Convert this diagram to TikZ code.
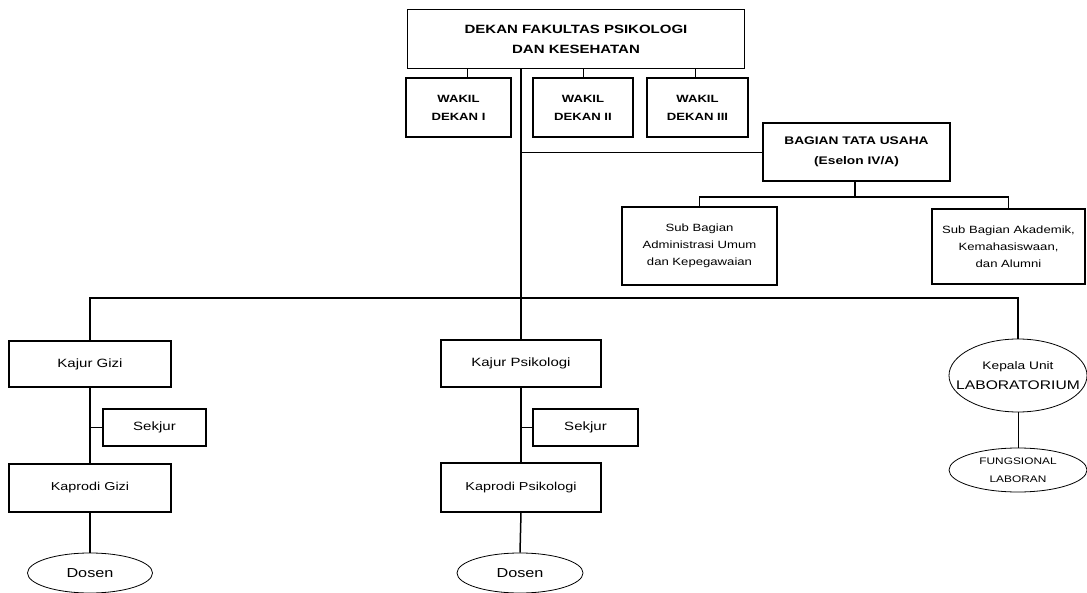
\documentclass[tikz,border=0pt]{standalone}
\usepackage{fontspec}
\setmainfont{Liberation Sans}[FakeStretch=1.25]
\usetikzlibrary{shapes,positioning,calc}

\begin{document}
\begin{tikzpicture}[
    x=1pt, y=-1pt,
    unit/.style={rectangle, draw, line width=1.1pt, align=center, inner sep=2pt},
    oval/.style={ellipse, draw, line width=0.8pt, align=center, inner sep=0pt},
    thinline/.style={line width=0.8pt},
    midline/.style={line width=1.5pt},
    thickline/.style={line width=2.4pt}
]
    \useasboundingbox (0,0) rectangle (1087,593);

    % Top level
    \node[unit, minimum width=337pt, minimum height=59pt, font=\bfseries\fontsize{12}{20}\selectfont] (dekan) at (576,39) {DEKAN FAKULTAS PSIKOLOGI\\DAN KESEHATAN};

    \node[unit, minimum width=105pt, minimum height=59pt, font=\bfseries\fontsize{10.5}{18}\selectfont] (wakil1) at (458.5,107.5) {WAKIL\\DEKAN I};
    \node[unit, minimum width=100pt, minimum height=59pt, font=\bfseries\fontsize{10.5}{18}\selectfont] (wakil2) at (583,107.5) {WAKIL\\DEKAN II};
    \node[unit, minimum width=101pt, minimum height=59pt, font=\bfseries\fontsize{10.5}{18}\selectfont] (wakil3) at (697.5,107.5) {WAKIL\\DEKAN III};

    % Tata usaha
    \node[unit, minimum width=187pt, minimum height=58pt, font=\bfseries\fontsize{11}{20}\selectfont] (tatausaha) at (856.5,152) {BAGIAN TATA USAHA\\(Eselon IV/A)};
    \node[unit, minimum width=155pt, minimum height=78pt, font=\fontsize{10.5}{17}\selectfont] (subadmin) at (699.5,246) {Sub Bagian\\Administrasi Umum\\dan Kepegawaian};
    \node[unit, minimum width=153pt, minimum height=75pt, font=\fontsize{10.5}{17}\selectfont] (subakad) at (1008.5,246.5) {Sub Bagian Akademik,\\Kemahasiswaan,\\dan Alumni};

    % Jurusan Gizi
    \node[unit, minimum width=162pt, minimum height=46pt, font=\fontsize{12}{14}\selectfont] (kajurgizi) at (90,364) {Kajur Gizi};
    \node[unit, minimum width=103pt, minimum height=37pt, font=\fontsize{12}{14}\selectfont] (sekjurgizi) at (154.5,427.5) {Sekjur};
    \node[unit, minimum width=162pt, minimum height=48pt, font=\fontsize{11.5}{14}\selectfont] (kaprodigizi) at (90,488) {Kaprodi Gizi};
    \node[oval, minimum width=125pt, minimum height=40pt, font=\fontsize{13}{15}\selectfont] (dosengizi) at (90,573) {Dosen};

    % Jurusan Psikologi
    \node[unit, minimum width=160pt, minimum height=47pt, font=\fontsize{12}{14}\selectfont] (kajurpsi) at (521,363.5) {Kajur Psikologi};
    \node[unit, minimum width=105pt, minimum height=37pt, font=\fontsize{12}{14}\selectfont] (sekjurpsi) at (585.5,427.5) {Sekjur};
    \node[unit, minimum width=160pt, minimum height=49pt, font=\fontsize{11.5}{14}\selectfont] (kaprodipsi) at (521,487.5) {Kaprodi Psikologi};
    \node[oval, minimum width=126pt, minimum height=40pt, font=\fontsize{13}{15}\selectfont] (dosenpsi) at (520,573) {Dosen};

    % Laboratorium
    \node[oval, inner xsep=-15pt, minimum width=138pt, minimum height=73pt, font=\fontsize{12.5}{20}\selectfont] (kepalalab) at (1018,375.5) {{\fontsize{11}{20}\selectfont Kepala Unit}\\LABORATORIUM};
    \node[oval, inner xsep=-6pt, minimum width=138pt, minimum height=44pt, font=\fontsize{9.5}{18}\selectfont] (laboran) at (1018,470) {FUNGSIONAL\\LABORAN};

    % Bus coordinates
    \coordinate (bus) at (521,298);
    \coordinate (tubus) at (855,197);

    % Dekan to wakil
    \draw[thinline] (wakil1.north -| 467,0) -- (dekan.south -| 467,0);
    \draw[thinline] (wakil2.north) -- (dekan.south -| wakil2.north);
    \draw[thinline] (wakil3.north -| 695,0) -- (dekan.south -| 695,0);

    % Main line
    \draw[thickline] (dekan.south -| kajurpsi.north) -- (kajurpsi.north);
    \draw[thickline] (kajurgizi.north) |- (bus) -| (kepalalab.north);
    \draw[thinline] (tatausaha.west) -- (tatausaha.west -| kajurpsi.north);

    % Tata usaha
    \draw[midline] (tatausaha.south -| tubus) -- (tubus);
    \draw[midline] (subadmin.north) |- (tubus) -| (subakad.north);

    % Gizi
    \draw[midline] (kajurgizi.south) -- (kaprodigizi.north);
    \draw[thinline] (sekjurgizi.west) -- (sekjurgizi.west -| kajurgizi.south);
    \draw[midline] (kaprodigizi.south) -- (dosengizi.north);

    % Psikologi
    \draw[midline] (kajurpsi.south) -- (kaprodipsi.north);
    \draw[thinline] (sekjurpsi.west) -- (sekjurpsi.west -| kajurpsi.south);
    \draw[midline] (kaprodipsi.south) -- (dosenpsi.north);

    % Lab
    \draw[thinline] (kepalalab.south) -- (laboran.north);
\end{tikzpicture}
\end{document}
